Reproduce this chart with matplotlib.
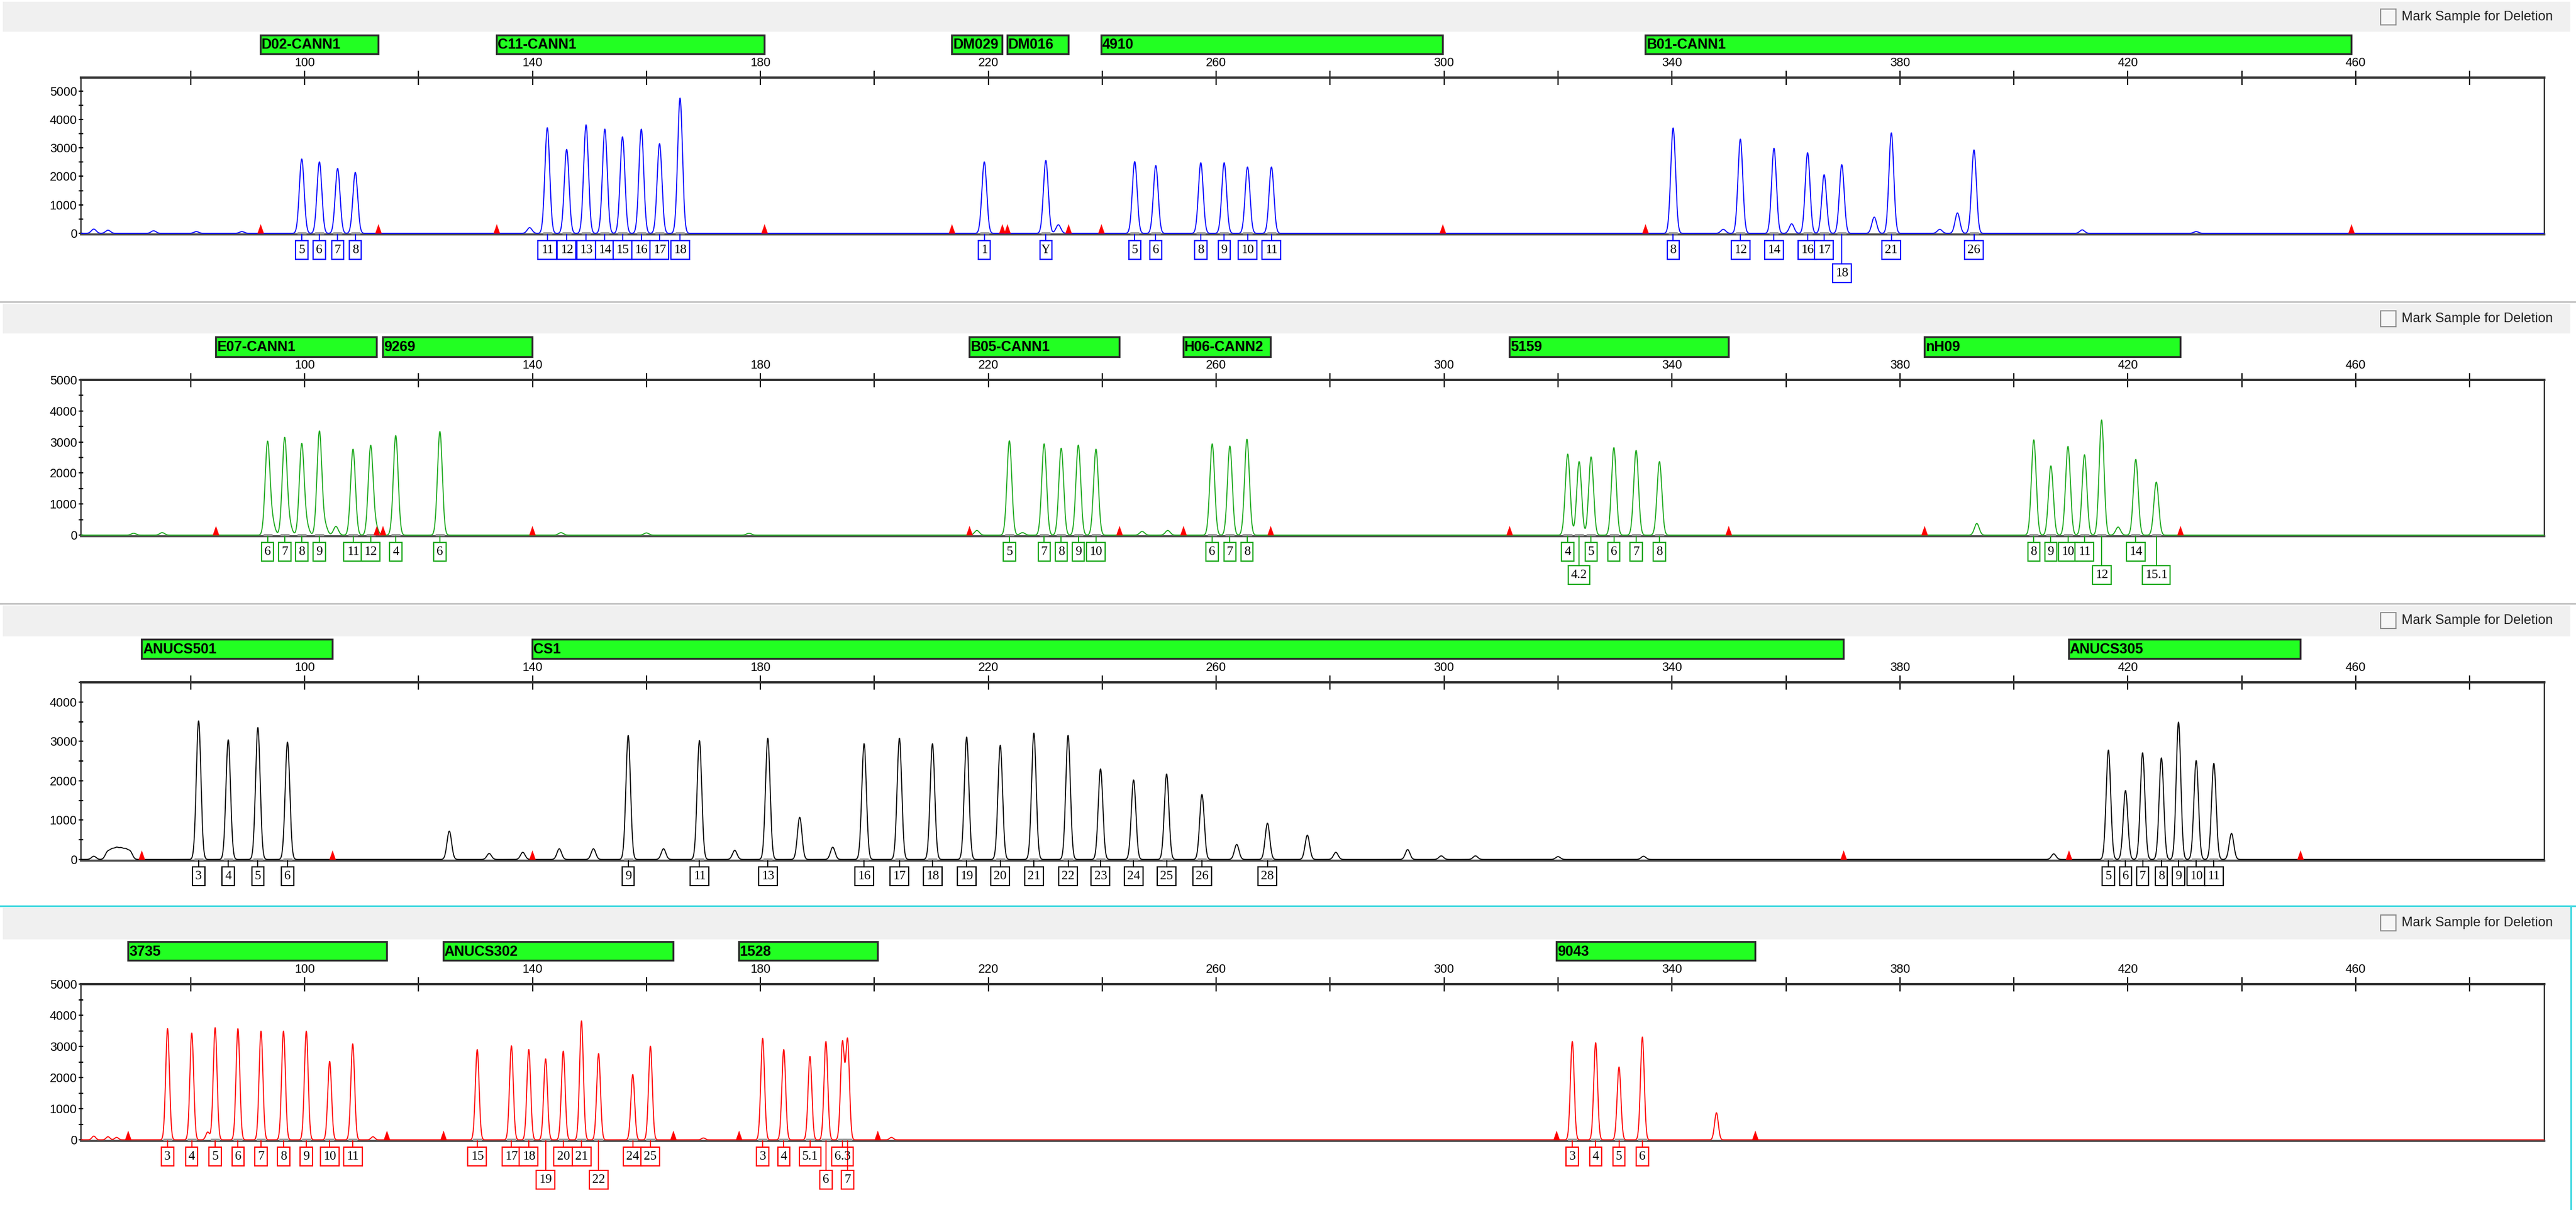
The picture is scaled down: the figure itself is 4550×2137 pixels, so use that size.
import numpy as np
import matplotlib
matplotlib.use("Agg")
import matplotlib.pyplot as plt
import matplotlib.transforms as mtransforms
from matplotlib.patches import Rectangle
from matplotlib.path import Path
from matplotlib.ticker import MultipleLocator, FixedLocator, FuncFormatter
from matplotlib.lines import Line2D

plt.rcParams['font.family'] = ['Liberation Sans', 'DejaVu Sans']

# ------------------------------------------------------------------ data
# Panel 1 (blue dye)
p1_loci = ["D02-CANN1", "C11-CANN1", "DM029", "DM016", "4910", "B01-CANN1"]
p1_loci_start = [92.2, 133.7, 213.6, 223.3, 239.8, 335.3]
p1_loci_end = [112.9, 180.7, 222.4, 234.0, 299.7, 459.2]
p1_peak_x = [99.5, 102.6, 105.8, 108.9,
             142.6, 146.0, 149.4, 152.7, 155.8, 159.1, 162.3, 165.9,
             219.3, 230.1,
             245.7, 249.4, 257.3, 261.4, 265.5, 269.7,
             340.2, 352.0, 357.9, 363.8, 366.7, 369.8, 378.5, 393.0]
p1_peak_h = [2610, 2510, 2280, 2140,
             3710, 2950, 3810, 3660, 3390, 3660, 3150, 4750,
             2510, 2560,
             2520, 2380, 2480, 2480, 2330, 2330,
             3700, 3310, 2990, 2830, 2060, 2410, 3530, 2930]
p1_peak_lab = ["5", "6", "7", "8",
               "11", "12", "13", "14", "15", "16", "17", "18",
               "1", "Y",
               "5", "6", "8", "9", "10", "11",
               "8", "12", "14", "16", "17", "18", "21", "26"]
p1_peak_row = [1] * 25 + [2] + [1, 1]
p1_noise_x = [63, 65.5, 73.5, 81, 89, 139.5, 232.3, 349, 361, 375.5, 387, 390.1, 412, 432]
p1_noise_h = [150, 110, 90, 60, 60, 200, 300, 140, 335, 570, 140, 716, 120, 60]

# Panel 2 (green dye)
p2_loci = ["E07-CANN1", "9269", "B05-CANN1", "H06-CANN2", "5159", "nH09"]
p2_loci_start = [84.4, 113.7, 216.7, 254.2, 311.5, 384.3]
p2_loci_end = [112.6, 139.9, 243.0, 269.5, 349.9, 429.2]
p2_peak_x = [93.5, 96.5, 99.5, 102.6, 108.5, 111.6, 116.0, 123.75,
             223.7, 229.8, 232.8, 235.8, 238.9,
             259.3, 262.4, 265.4,
             321.7, 323.7, 325.8, 329.8, 333.7, 337.8,
             403.5, 406.5, 409.5, 412.4, 415.4, 421.4, 425.0]
p2_peak_h = [2990, 3120, 2930, 3340, 2770, 2870, 3210, 3340,
             3040, 2940, 2800, 2900, 2770,
             2940, 2870, 3090,
             2610, 2370, 2520, 2820, 2730, 2370,
             3070, 2230, 2860, 2590, 3710, 2440, 1710]
p2_peak_lab = ["6", "7", "8", "9", "11", "12", "4", "6",
               "5", "7", "8", "9", "10",
               "6", "7", "8",
               "4", "4.2", "5", "6", "7", "8",
               "8", "9", "10", "11", "12", "14", "15.1"]
p2_peak_row = [1] * 17 + [2] + [1] * 8 + [2, 1, 2]
p2_noise_x = [70, 75, 94.4, 97.4, 100.4, 103.6, 105.5, 112.5, 145, 160, 178,
              218, 226, 247, 251.5, 393.5, 418.3]
p2_noise_h = [60, 80, 380, 300, 280, 300, 280, 250, 80, 70, 60,
              150, 80, 120, 150, 375, 260]

# Panel 3 (black dye)
p3_loci = ["ANUCS501", "CS1", "ANUCS305"]
p3_loci_start = [71.4, 139.9, 409.6]
p3_loci_end = [104.9, 370.1, 450.3]
p3_peak_x = [81.4, 86.6, 91.8, 97.0,
             156.8, 169.3, 181.3, 198.2, 204.4, 210.2, 216.2, 222.1, 228.0,
             234.0, 239.7, 245.5, 251.3, 257.5, 269.0,
             416.6, 419.6, 422.6, 425.9, 428.9, 432.0, 435.1]
p3_peak_h = [3520, 3040, 3350, 2980,
             3150, 3020, 3080, 2940, 3080, 2940, 3110, 2900, 3210,
             3150, 2300, 2020, 2170, 1650, 920,
             2780, 1750, 2710, 2580, 3490, 2510, 2440]
p3_peak_lab = ["3", "4", "5", "6",
               "9", "11", "13", "16", "17", "18", "19", "20", "21",
               "22", "23", "24", "25", "26", "28",
               "5", "6", "7", "8", "9", "10", "11"]
p3_peak_row = [1] * 26
p3_noise_x = [63, 65.4, 66.2, 67, 67.8, 68.6, 69.4, 125.4, 132.4, 138.3, 144.7, 150.7, 163.0,
              175.5, 186.9, 192.7, 263.6, 276.0, 281.0, 293.6, 299.5, 305.5,
              320, 335, 407, 438.2]
p3_noise_h = [80, 180, 220, 250, 240, 220, 190, 720, 150, 180, 270, 270, 270,
              230, 1070, 310, 380, 615, 180, 250, 90, 90,
              70, 80, 140, 660]

# Panel 4 (red dye)
p4_loci = ["3735", "ANUCS302", "1528", "9043"]
p4_loci_start = [69.0, 124.3, 176.2, 319.7]
p4_loci_end = [114.4, 164.7, 200.6, 354.6]
p4_peak_x = [75.95, 80.2, 84.3, 88.3, 92.35, 96.3, 100.3, 104.4, 108.45,
             130.3, 136.3, 139.35, 142.3, 145.4, 148.6, 151.6, 157.6, 160.7,
             180.4, 184.1, 188.7, 191.5, 194.4, 195.3,
             322.5, 326.6, 330.7, 334.8]
p4_peak_h = [3570, 3430, 3600, 3570, 3490, 3490, 3490, 2520, 3080,
             2900, 3020, 2900, 2600, 2850, 3820, 2770, 2100, 3010,
             3260, 2900, 2680, 3160, 3100, 3190,
             3160, 3120, 2340, 3300]
p4_peak_lab = ["3", "4", "5", "6", "7", "8", "9", "10", "11",
               "15", "17", "18", "19", "20", "21", "22", "24", "25",
               "3", "4", "5.1", "6", "6.3", "7",
               "3", "4", "5", "6"]
p4_peak_row = [1] * 12 + [2] + [1, 1] + [2] + [1] * 5 + [2] + [1] + [2] + [1] * 4
p4_noise_x = [63, 65.5, 67, 83.0, 112, 170, 203, 347.8]
p4_noise_h = [120, 100, 80, 250, 100, 60, 80, 870]

y_max = [5470, 5000, 4500, 5000]

# ------------------------------------------------------------------ layout (pixels)
W, H, DPI = 4550, 2137, 100
XMIN, XMAX = 60.75, 493.1
AX_L, AX_R = 143, 4494
ax_top = [137, 671, 1205, 1738]
ax_bot = [414, 947, 1520, 2015]
hdr_top = [3, 537, 1069, 1603]
hdr_bot = [56, 589, 1124, 1659]
bar_top = [62, 595, 1129, 1663]
bar_bot = [95, 630, 1163, 1696]
chk_cy = [30, 563, 1096, 1630]
colors = ["#0000ff", "#1aa81a", "#000000", "#ff0000"]
sigmas = [0.42, 0.42, 0.40, 0.33]

PX_PER_UNIT = (AX_R - AX_L) / (XMAX - XMIN)


def fx(px):
    return px / W


def fy(py):
    return 1 - py / H


panels = [
    (p1_loci, p1_loci_start, p1_loci_end, p1_peak_x, p1_peak_h, p1_peak_lab, p1_peak_row, p1_noise_x, p1_noise_h),
    (p2_loci, p2_loci_start, p2_loci_end, p2_peak_x, p2_peak_h, p2_peak_lab, p2_peak_row, p2_noise_x, p2_noise_h),
    (p3_loci, p3_loci_start, p3_loci_end, p3_peak_x, p3_peak_h, p3_peak_lab, p3_peak_row, p3_noise_x, p3_noise_h),
    (p4_loci, p4_loci_start, p4_loci_end, p4_peak_x, p4_peak_h, p4_peak_lab, p4_peak_row, p4_noise_x, p4_noise_h),
]

fig = plt.figure(figsize=(W / DPI, H / DPI), dpi=DPI)
fig.patch.set_facecolor("white")

tri = Path([(-0.35, 0), (0.35, 0), (0, 1), (-0.35, 0)],
           [Path.MOVETO, Path.LINETO, Path.LINETO, Path.CLOSEPOLY])

xs = np.arange(XMIN, XMAX, 0.03)

# separators
for py, col in [(533, "#c4c4c4"), (1066, "#c4c4c4"), (1600, "#3fd8e0")]:
    fig.add_artist(Line2D([0, 1], [fy(py), fy(py)], transform=fig.transFigure,
                          color=col, lw=2.2))
fig.add_artist(Line2D([fx(4541), fx(4541)], [fy(1600), 0], transform=fig.transFigure,
                      color="#3fd8e0", lw=2.2))

for i, (loci, ls, le, px_, ph, plab, prow, nx, nh) in enumerate(panels):
    col = colors[i]
    # header band
    fig.add_artist(Rectangle((fx(5), fy(hdr_bot[i])), fx(4540 - 5), (hdr_bot[i] - hdr_top[i]) / H,
                             transform=fig.transFigure, facecolor="#f0f0f0", edgecolor="none", zorder=0))
    # checkbox
    fig.add_artist(Rectangle((fx(4205), fy(chk_cy[i] + 14)), fx(27), 28 / H,
                             transform=fig.transFigure, facecolor="#f6f6f6", edgecolor="#8c8c8c",
                             lw=1.4, zorder=2))
    fig.text(fx(4242), fy(chk_cy[i]), "Mark Sample for Deletion", fontsize=17,
             color="#222222", va="center", ha="left")

    ax = fig.add_axes([fx(AX_L), fy(ax_bot[i]), fx(AX_R - AX_L), (ax_bot[i] - ax_top[i]) / H])
    ax.set_facecolor("white")
    ymax = y_max[i]
    ax.set_xlim(XMIN, XMAX)
    ax.set_ylim(-ymax * 0.007, ymax)

    # trace
    allx = np.array(list(px_) + list(nx), dtype=float)
    allh = np.array(list(ph) + list(nh), dtype=float)
    y = (allh[:, None] * np.exp(-0.5 * ((xs[None, :] - allx[:, None]) / sigmas[i]) ** 2)).sum(axis=0)
    ax.plot(xs, y, color=col, lw=1.3, zorder=3)

    # gray area markers under labeled peaks
    ax.hlines([0] * len(px_), np.array(px_) - 0.8, np.array(px_) + 0.8, color="#9a9a9a", lw=3.5, zorder=2.8)

    # bin edge marks
    edges = list(ls) + list(le)
    ax.plot(edges, [0] * len(edges), ls="none", marker=tri, ms=24, color="red",
            markeredgewidth=0, zorder=4, clip_on=False)

    # spines
    ax.spines["top"].set_linewidth(3.0)
    ax.spines["top"].set_color("#333333")
    ax.spines["bottom"].set_linewidth(2.6)
    ax.spines["bottom"].set_color("#4a4a4a")
    ax.spines["left"].set_linewidth(1.5)
    ax.spines["right"].set_linewidth(1.5)
    ax.spines["left"].set_color("black")
    ax.spines["right"].set_color("black")

    # x ticks on top
    ax.xaxis.tick_top()
    ax.xaxis.set_major_locator(FixedLocator(list(range(80, 481, 20))))
    ax.xaxis.set_major_formatter(FuncFormatter(lambda v, p: "%d" % v if (int(round(v)) - 100) % 40 == 0 else ""))
    ax.tick_params(axis="x", which="major", direction="inout", length=18, width=1.6,
                   top=True, bottom=False, labeltop=True, labelbottom=False, labelsize=15.5, pad=2,
                   colors="black")
    # y ticks
    ax.yaxis.set_major_locator(MultipleLocator(1000))
    ax.yaxis.set_minor_locator(MultipleLocator(500))
    ax.yaxis.set_major_formatter(FuncFormatter(lambda v, p: "%d" % v if v >= 0 else ""))
    ax.tick_params(axis="y", which="both", direction="inout", length=6, width=1.6,
                   labelsize=15.5, pad=2)

    blend = mtransforms.blended_transform_factory(ax.transData, fig.transFigure)

    # locus bars
    for name, s0, s1 in zip(loci, ls, le):
        fig.add_artist(Rectangle((s0, fy(bar_bot[i])), s1 - s0, (bar_bot[i] - bar_top[i]) / H,
                                 transform=blend, facecolor="#22ff22", edgecolor="#2b2b2b",
                                 lw=2.4, zorder=2))
        fig.text(s0 + 2 / PX_PER_UNIT, fy((bar_top[i] + bar_bot[i]) / 2 + 1), name,
                 transform=blend, fontsize=18, fontweight="bold", va="center", ha="left",
                 color="black", zorder=3)

    # allele label boxes
    z = ax_bot[i]
    for x0, lab, r in zip(px_, plab, prow):
        top = z + (11 if r == 1 else 52)
        ndot = lab.count(".")
        wpx = 10 + 11.5 * (len(lab) - ndot) + 5 * ndot
        wd = wpx / PX_PER_UNIT
        fig.add_artist(Line2D([x0, x0], [fy(z), fy(top)], transform=blend, color=col, lw=1.4))
        fig.add_artist(Rectangle((x0 - wd / 2, fy(top + 33)), wd, 33 / H, transform=blend,
                                 facecolor="white", edgecolor=col, lw=1.6, zorder=2))
        fig.text(x0, fy(top + 16.5), lab, transform=blend, fontsize=16.5,
                 family=["Liberation Serif", "DejaVu Serif"], ha="center", va="center",
                 color="black", zorder=3)

fig.savefig("out.png", dpi=DPI, facecolor="white")
